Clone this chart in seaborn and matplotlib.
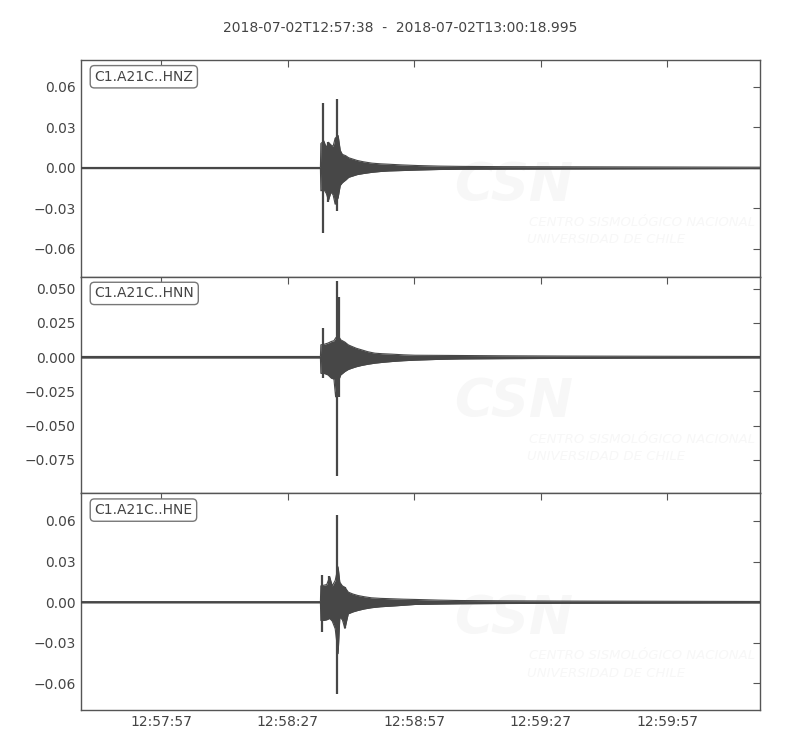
import numpy as np
import pandas as pd
import matplotlib
matplotlib.use("Agg")
import matplotlib.pyplot as plt
import matplotlib.dates as mdates
from matplotlib.ticker import MultipleLocator
import seaborn as sns

# Record window
T_START = "2018-07-02T12:57:38"
T_END_LABEL = "2018-07-02T13:00:18.995"
DURATION = 160.995

# Envelope of each trace (seconds after start, upper / lower amplitude)
hnz_time = [0.0, 20.0, 40.0, 56.8, 56.9, 57.6, 58.2, 58.7, 59.3, 59.8, 60.3, 61.0, 61.5, 62.0, 62.8, 63.5,
            64.5, 65.5, 67.0, 69.0, 71.0, 73.0, 76.0, 80.0, 85.0, 90.0, 100.0, 115.0, 130.0, 145.0, 161.0]
hnz_upper = [0.0003, 0.0003, 0.0003, 0.0003, 0.018, 0.020, 0.015, 0.019, 0.017, 0.016, 0.022, 0.024, 0.013,
             0.010, 0.009, 0.0075, 0.0065, 0.0055, 0.0045, 0.0035, 0.0030, 0.0027, 0.0022, 0.0017, 0.0013,
             0.0011, 0.0009, 0.0008, 0.0007, 0.0006, 0.0005]
hnz_lower = [-0.0003, -0.0003, -0.0003, -0.0003, -0.017, -0.016, -0.019, -0.024, -0.018, -0.020, -0.027,
             -0.022, -0.013, -0.011, -0.009, -0.007, -0.006, -0.005, -0.0042, -0.0033, -0.0027, -0.0023,
             -0.0020, -0.0016, -0.0012, -0.0010, -0.0009, -0.0008, -0.0007, -0.0006, -0.0005]
hnz_spike_time = [57.4, 58.7, 60.4, 60.7]
hnz_spike_top = [0.048, 0.019, 0.022, 0.051]
hnz_spike_bottom = [-0.048, -0.025, -0.027, -0.032]

hnn_time = [0.0, 20.0, 40.0, 56.8, 56.9, 57.8, 58.6, 59.4, 60.0, 60.4, 61.0, 61.6, 62.6, 63.4, 64.2, 65.3,
            66.5, 68.0, 69.7, 71.5, 73.7, 76.5, 79.2, 85.0, 90.0, 100.0, 115.0, 130.0, 145.0, 161.0]
hnn_upper = [0.0005, 0.0005, 0.0005, 0.0005, 0.009, 0.0095, 0.0103, 0.0115, 0.012, 0.014, 0.016, 0.0127,
             0.011, 0.009, 0.0079, 0.0065, 0.0054, 0.0040, 0.0029, 0.0025, 0.0022, 0.0017, 0.0014, 0.0013,
             0.0012, 0.0010, 0.0008, 0.0007, 0.0006, 0.0005]
hnn_lower = [-0.0005, -0.0005, -0.0005, -0.0005, -0.0118, -0.012, -0.013, -0.0154, -0.016, -0.029, -0.018,
             -0.013, -0.0105, -0.009, -0.0081, -0.007, -0.0061, -0.0052, -0.0044, -0.0038, -0.0032, -0.0026,
             -0.0022, -0.0016, -0.0013, -0.0011, -0.0009, -0.0007, -0.0006, -0.0005]
hnn_spike_time = [57.4, 60.7, 61.3]
hnn_spike_top = [0.0213, 0.0557, 0.044]
hnn_spike_bottom = [-0.0154, -0.087, -0.029]

hne_time = [0.0, 20.0, 40.0, 56.8, 56.9, 57.6, 58.3, 59.0, 59.6, 60.3, 61.0, 61.4, 62.0, 62.6, 63.4, 64.5,
            65.7, 67.2, 68.9, 71.0, 73.7, 76.5, 79.2, 85.0, 90.0, 100.0, 115.0, 130.0, 145.0, 161.0]
hne_upper = [0.0004, 0.0004, 0.0004, 0.0004, 0.012, 0.0125, 0.013, 0.0187, 0.012, 0.016, 0.026, 0.0147,
             0.012, 0.011, 0.0074, 0.0060, 0.0049, 0.0040, 0.0032, 0.0028, 0.0025, 0.0022, 0.0020, 0.0015,
             0.0012, 0.0010, 0.0008, 0.0007, 0.0006, 0.0005]
hne_lower = [-0.0004, -0.0004, -0.0004, -0.0004, -0.0135, -0.0135, -0.013, -0.012, -0.014, -0.0196, -0.038,
             -0.011, -0.013, -0.0194, -0.0086, -0.0072, -0.0061, -0.005, -0.0041, -0.0034, -0.0029, -0.0023,
             -0.0017, -0.0014, -0.0012, -0.0010, -0.0008, -0.0007, -0.0006, -0.0005]
hne_spike_time = [57.2, 58.9, 60.7, 62.6]
hne_spike_top = [0.0197, 0.019, 0.064, 0.011]
hne_spike_bottom = [-0.022, -0.012, -0.0676, -0.0194]

channels = ["C1.A21C..HNZ", "C1.A21C..HNN", "C1.A21C..HNE"]
y_limits = [(-0.0807, 0.080), (-0.0995, 0.0588), (-0.0796, 0.0803)]
y_steps = [0.03, 0.025, 0.03]

TRACE_COLOR = "#474747"
FRAME_COLOR = "#555555"
TEXT_COLOR = "#444444"
LOGO_COLOR = "#f7f7f7"

sns.set_style("white")
plt.rcParams.update({
    "font.family": ["DejaVu Sans"],
    "font.size": 10,
    "axes.edgecolor": FRAME_COLOR,
    "axes.linewidth": 1.0,
    "xtick.color": FRAME_COLOR,
    "ytick.color": FRAME_COLOR,
    "xtick.labelcolor": TEXT_COLOR,
    "ytick.labelcolor": TEXT_COLOR,
    "xtick.direction": "in",
    "ytick.direction": "in",
    "xtick.top": True,
    "ytick.right": True,
    "xtick.major.size": 5,
    "ytick.major.size": 5,
    "axes.unicode_minus": True,
})

start = pd.Timestamp(T_START)
end = start + pd.to_timedelta(DURATION, unit="s")


def to_frame(times, upper, lower):
    return pd.DataFrame({
        "time": start + pd.to_timedelta(times, unit="s"),
        "upper": upper,
        "lower": lower,
    })


traces = [
    (to_frame(hnz_time, hnz_upper, hnz_lower), hnz_spike_time, hnz_spike_top, hnz_spike_bottom),
    (to_frame(hnn_time, hnn_upper, hnn_lower), hnn_spike_time, hnn_spike_top, hnn_spike_bottom),
    (to_frame(hne_time, hne_upper, hne_lower), hne_spike_time, hne_spike_top, hne_spike_bottom),
]

fig, axes = plt.subplots(3, 1, figsize=(8, 7.5), dpi=100, sharex=True)
fig.subplots_adjust(left=0.101, right=0.95, top=0.92, bottom=0.0533, hspace=0)

for ax, (df, s_t, s_top, s_bot), name, ylim, step in zip(axes, traces, channels, y_limits, y_steps):
    # faint station logo in the background
    ax.text(0.55, 0.42, "CSN", transform=ax.transAxes, fontsize=38, fontweight="bold",
            fontstyle="italic", color=LOGO_COLOR, ha="left", va="center", zorder=0, clip_on=True)
    ax.text(0.66, 0.25, "CENTRO SISMOLÓGICO NACIONAL", transform=ax.transAxes, fontsize=9.5,
            fontstyle="italic", color=LOGO_COLOR, ha="left", va="center", zorder=0, clip_on=True)
    ax.text(0.657, 0.17, "UNIVERSIDAD DE CHILE", transform=ax.transAxes, fontsize=9.5,
            fontstyle="italic", color=LOGO_COLOR, ha="left", va="center", zorder=0, clip_on=True)

    ax.fill_between(df["time"], df["lower"], df["upper"], color=TRACE_COLOR, lw=0, zorder=2)
    sns.lineplot(data=df, x="time", y="upper", ax=ax, color=TRACE_COLOR, lw=0.8, zorder=3)
    sns.lineplot(data=df, x="time", y="lower", ax=ax, color=TRACE_COLOR, lw=0.8, zorder=3)
    ax.axhline(0, color=TRACE_COLOR, lw=1.0, zorder=3)
    spike_x = start + pd.to_timedelta(s_t, unit="s")
    ax.vlines(spike_x, s_bot, s_top, color=TRACE_COLOR, lw=1.6, zorder=4)

    ax.set_ylim(*ylim)
    ax.yaxis.set_major_locator(MultipleLocator(step))
    ax.set_xlabel("")
    ax.set_ylabel("")
    ax.text(0.02, 0.955, name, transform=ax.transAxes, ha="left", va="top", fontsize=10,
            color=TEXT_COLOR, zorder=5,
            bbox=dict(boxstyle="round,pad=0.3", fc="white", ec="#777777", lw=1.0))

axes[-1].set_xlim(start, end)
axes[-1].xaxis.set_major_locator(mdates.SecondLocator(bysecond=[27, 57]))
axes[-1].xaxis.set_major_formatter(mdates.DateFormatter("%H:%M:%S"))

fig.suptitle(f"{T_START}  -  {T_END_LABEL}", y=0.972, fontsize=10, color=TEXT_COLOR)

fig.savefig("out.png", dpi=100)
plt.close(fig)
